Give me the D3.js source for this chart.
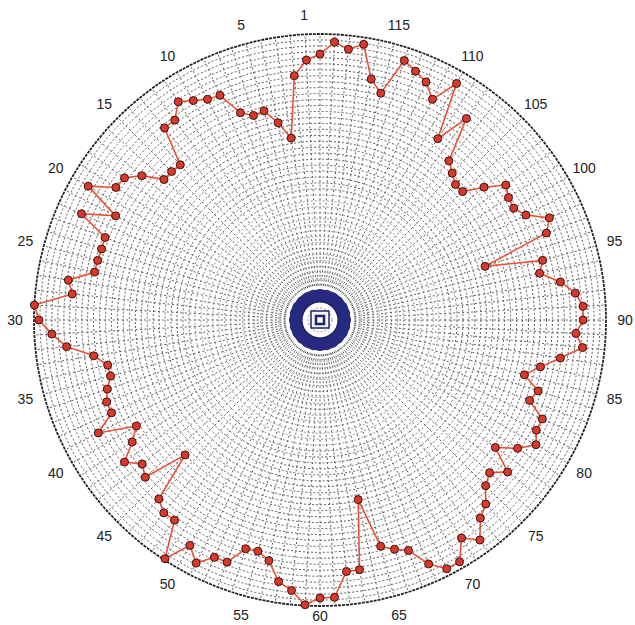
<!DOCTYPE html>
<html>
<head>
<meta charset="utf-8">
<script src="https://cdn.jsdelivr.net/npm/d3@7"></script>
<style>
  body { margin: 0; background: #fff; }
  text { font-family: "Liberation Sans", Arial, sans-serif; font-size: 14px; fill: #222; }
</style>
</head>
<body>
<div id="graphic"></div>
<script>
const width = 635;
const height = 625;

// 120 positions around the circle, 3 degrees apart, counter-clockwise from the top
const positions = d3.range(120);

// radius of each point, 0..1 of the outer circle
const values = [
  0.930, 0.910, 0.859, 0.644, 0.705, 0.757, 0.752, 0.776, 0.860, 0.866,
  0.886, 0.910, 0.864, 0.864, 0.730, 0.734, 0.734, 0.802, 0.845, 0.851,
  0.936, 0.802, 0.913, 0.805, 0.803, 0.805, 0.806, 0.891, 0.871, 1.000,
  0.983, 0.939, 0.891, 0.801, 0.759, 0.758, 0.782, 0.799, 0.798, 0.870,
  0.741, 0.783, 0.845, 0.800, 0.822, 0.667, 0.842, 0.868, 0.865, 0.995,
  0.910, 0.954, 0.908, 0.907, 0.841, 0.837, 0.860, 0.926, 0.951, 0.997,
  0.972, 0.971, 0.884, 0.884, 0.642, 0.819, 0.843, 0.863, 0.934, 0.976,
  0.976, 0.909, 0.951, 0.891, 0.866, 0.819, 0.798, 0.844, 0.758, 0.824,
  0.872, 0.849, 0.851, 0.785, 0.802, 0.740, 0.788, 0.851, 0.923, 0.896,
  0.920, 0.921, 0.898, 0.851, 0.785, 0.806, 0.607, 0.848, 0.878, 0.808,
  0.782, 0.786, 0.803, 0.738, 0.671, 0.670, 0.691, 0.716, 0.871, 0.756,
  0.955, 0.866, 0.911, 0.932, 0.954, 0.821, 0.861, 0.976, 0.952, 0.973
];

const tickValues = [1, 5, 10, 15, 20, 25, 30, 35, 40, 45, 50, 55, 60,
                    65, 70, 75, 80, 85, 90, 95, 100, 105, 110, 115];
const tickLabels = ['1', '5', '10', '15', '20', '25', '30', '35', '40', '45', '50', '55', '60',
                    '65', '70', '75', '80', '85', '90', '95', '100', '105', '110', '115'];

const cx = 320;
const cy = 320;
const R = 286;

const svg = d3.select('#graphic')
    .append('svg')
    .attr('width', width)
    .attr('height', height);

const rScale = d3.scaleLinear().domain([0, 1]).range([0, R]);
// d3 angles run clockwise from 12 o'clock, this chart runs the other way
const aScale = d3.scaleLinear().domain([0, 120]).range([0, -2 * Math.PI]);

const g = svg.append('g')
    .attr('transform', `translate(${cx},${cy})`);

// grid: concentric dashed circles
const rings = d3.range(1, 48).map(k => k / 48);
g.append('g')
    .selectAll('circle')
    .data(rings)
    .join('circle')
    .attr('r', d => rScale(d))
    .attr('fill', 'none')
    .attr('stroke', d => d < 0.45 ? '#8a8a9a' : '#5a5a5a')
    .attr('stroke-width', 1)
    .attr('stroke-dasharray', '2,2');

// grid: radial dashed spokes
g.append('g')
    .selectAll('line')
    .data(positions)
    .join('line')
    .attr('x1', d => Math.sin(aScale(d)) * rScale(0.12))
    .attr('y1', d => -Math.cos(aScale(d)) * rScale(0.12))
    .attr('x2', d => Math.sin(aScale(d)) * R)
    .attr('y2', d => -Math.cos(aScale(d)) * R)
    .attr('stroke', '#5e5e5e')
    .attr('stroke-width', 1)
    .attr('stroke-dasharray', '2,2.5');

// outer circle
g.append('circle')
    .attr('r', R)
    .attr('fill', 'none')
    .attr('stroke', '#222')
    .attr('stroke-width', 1.8)
    .attr('stroke-dasharray', '3,1');

// angle labels
g.append('g')
    .selectAll('text')
    .data(tickValues)
    .join('text')
    .attr('x', d => Math.sin(aScale(d)) * 305)
    .attr('y', d => Math.min(-Math.cos(aScale(d)) * 305, height - cy - 9))
    .attr('text-anchor', 'middle')
    .attr('dominant-baseline', 'central')
    .text((d, i) => tickLabels[i]);

// blob at the origin
const hub = g.append('g');
hub.append('circle')
    .attr('r', 24)
    .attr('fill', 'none')
    .attr('stroke', '#1f226e')
    .attr('stroke-width', 13);
hub.selectAll('circle.dot')
    .data(d3.range(0, 360, 15))
    .join('circle')
    .attr('class', 'dot')
    .attr('cx', d => Math.cos(d * Math.PI / 180) * 25)
    .attr('cy', d => Math.sin(d * Math.PI / 180) * 25)
    .attr('r', 6)
    .attr('fill', '#262a80');
hub.append('rect')
    .attr('x', -9).attr('y', -9)
    .attr('width', 18).attr('height', 17)
    .attr('fill', '#f4f4f8')
    .attr('stroke', '#1f226e')
    .attr('stroke-width', 1.5);
hub.append('rect')
    .attr('x', -4).attr('y', -4)
    .attr('width', 8).attr('height', 8)
    .attr('fill', '#fff')
    .attr('stroke', '#1f226e')
    .attr('stroke-width', 2.5);

// data line
const line = d3.lineRadial()
    .angle((d, i) => aScale(i))
    .radius(d => rScale(d))
    .curve(d3.curveLinearClosed);

g.append('path')
    .datum(values)
    .attr('d', line)
    .attr('fill', 'none')
    .attr('stroke', '#e8503a')
    .attr('stroke-width', 1.6);

// markers
g.append('g')
    .selectAll('circle')
    .data(values)
    .join('circle')
    .attr('cx', (d, i) => Math.sin(aScale(i)) * rScale(d))
    .attr('cy', (d, i) => -Math.cos(aScale(i)) * rScale(d))
    .attr('r', 4)
    .attr('fill', '#d9392a')
    .attr('stroke', '#3d1410')
    .attr('stroke-width', 1);
</script>
</body>
</html>
